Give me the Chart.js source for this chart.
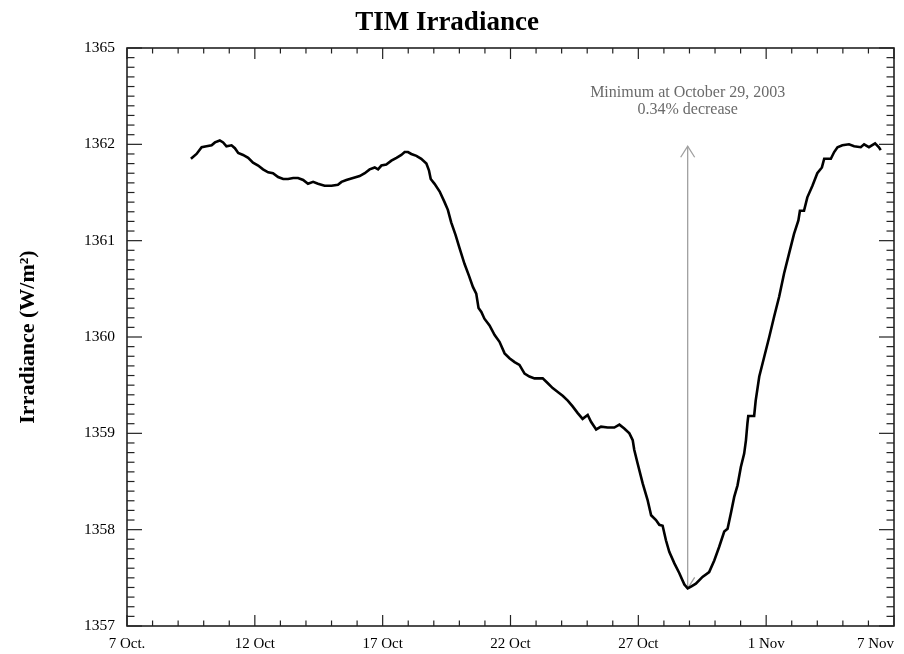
<!DOCTYPE html>
<html lang="en">
<head>
  <meta charset="utf-8" />
  <title>TIM Irradiance</title>
  <script src="https://cdn.jsdelivr.net/npm/chart.js@4.4.1/dist/chart.umd.min.js"></script>
  <style>
    body { margin: 0; background: #fff; }
    .wrap { width: 904px; height: 654px; position: relative; }
  </style>
</head>
<body>
  <div class="wrap"><canvas id="c"></canvas></div>
  <script>
    // days since 7 Oct 2003 (x), total solar irradiance in W/m^2 (y)
    const DAYS = [
      2.50, 2.72, 2.92, 3.11, 3.31, 3.44, 3.63, 3.76, 3.89, 4.09, 4.22, 4.35, 4.54, 4.74, 4.93,
      5.13, 5.32, 5.52, 5.71, 5.91, 6.11, 6.30, 6.50, 6.69, 6.89, 7.08, 7.28, 7.47, 7.73, 8.00,
      8.25, 8.39, 8.58, 8.84, 9.10, 9.30, 9.49, 9.69, 9.82, 9.95, 10.14, 10.34, 10.54, 10.73, 10.86,
      10.99, 11.12, 11.32, 11.51, 11.71, 11.81, 11.88, 12.03, 12.23, 12.42, 12.55, 12.68, 12.85, 13.01, 13.20,
      13.37, 13.53, 13.66, 13.75, 13.86, 13.98, 14.18, 14.38, 14.57, 14.77, 14.96, 15.16, 15.35, 15.55, 15.74,
      15.94, 16.26, 16.46, 16.65, 16.85, 17.04, 17.24, 17.43, 17.63, 17.82, 18.02, 18.15, 18.35, 18.54, 18.80,
      19.06, 19.26, 19.45, 19.65, 19.78, 19.84, 19.97, 20.17, 20.36, 20.50, 20.69, 20.82, 20.95, 21.08, 21.21,
      21.41, 21.60, 21.80, 21.93, 22.06, 22.25, 22.51, 22.77, 22.97, 23.16, 23.36, 23.49, 23.62, 23.75, 23.88,
      24.01, 24.14, 24.21, 24.27, 24.30, 24.53, 24.59, 24.73, 24.92, 25.12, 25.31, 25.51, 25.70, 25.90, 26.09,
      26.26, 26.32, 26.48, 26.61, 26.81, 27.00, 27.18, 27.27, 27.53, 27.66, 27.79, 27.98, 28.24, 28.44, 28.70,
      28.83, 29.02, 29.26, 29.41, 29.48
    ];
    const IRRADIANCE = [
      1361.85, 1361.90, 1361.97, 1361.98, 1361.99, 1362.02, 1362.04, 1362.02, 1361.98, 1361.99, 1361.96, 1361.91, 1361.89, 1361.86, 1361.81,
      1361.78, 1361.74, 1361.71, 1361.70, 1361.66, 1361.64, 1361.64, 1361.65, 1361.65, 1361.63, 1361.59, 1361.61, 1361.59, 1361.57, 1361.57,
      1361.58, 1361.61, 1361.63, 1361.65, 1361.67, 1361.70, 1361.74, 1361.76, 1361.74, 1361.78, 1361.79, 1361.83, 1361.86, 1361.89, 1361.92,
      1361.92, 1361.90, 1361.88, 1361.85, 1361.80, 1361.73, 1361.64, 1361.59, 1361.51, 1361.40, 1361.32, 1361.19, 1361.06, 1360.92, 1360.76,
      1360.64, 1360.52, 1360.45, 1360.30, 1360.26, 1360.19, 1360.12, 1360.02, 1359.95, 1359.83, 1359.78, 1359.74, 1359.71, 1359.62, 1359.59,
      1359.57, 1359.57, 1359.52, 1359.47, 1359.43, 1359.39, 1359.34, 1359.28, 1359.21, 1359.15, 1359.19, 1359.12, 1359.04, 1359.07, 1359.06,
      1359.06, 1359.09, 1359.05, 1359.00, 1358.93, 1358.83, 1358.69, 1358.48, 1358.31, 1358.15, 1358.10, 1358.05, 1358.04, 1357.89, 1357.77,
      1357.65, 1357.55, 1357.43, 1357.39, 1357.41, 1357.44, 1357.51, 1357.56, 1357.68, 1357.82, 1357.98, 1358.01, 1358.17, 1358.34, 1358.46,
      1358.65, 1358.79, 1358.93, 1359.11, 1359.18, 1359.18, 1359.34, 1359.59, 1359.79, 1360.00, 1360.21, 1360.42, 1360.66, 1360.87, 1361.07,
      1361.21, 1361.31, 1361.31, 1361.45, 1361.57, 1361.70, 1361.76, 1361.85, 1361.85, 1361.92, 1361.97, 1361.99, 1362.00, 1361.98, 1361.97,
      1362.00, 1361.97, 1362.01, 1361.97, 1361.94
    ];

    const X_TICK_DAYS = [0, 5, 10, 15, 20, 25, 30];
    const X_TICK_LABELS = ['7 Oct.', '12 Oct', '17 Oct', '22 Oct', '27 Oct', '1 Nov', '7 Nov'];
    const Y_TICK_VALUES = [1357, 1358, 1359, 1360, 1361, 1362, 1363];
    const Y_TICK_LABELS = ['1357', '1358', '1359', '1360', '1361', '1362', '1365'];

    // the minimum marker
    const MIN_DAY = 21.93;
    const MIN_VALUE = 1357.39;
    const ARROW_TOP = 1361.98;
    const NOTE_VALUE = 1362.54;
    const NOTE_LINES = ['Minimum at October 29, 2003', '0.34% decrease'];

    const SERIF = '"Liberation Serif", "Times New Roman", serif';
    const AXIS_COLOR = '#222';

    const points = DAYS.map((d, i) => ({ x: d, y: IRRADIANCE[i] }));

    function line(ctx, x1, y1, x2, y2) {
      ctx.beginPath();
      ctx.moveTo(x1, y1);
      ctx.lineTo(x2, y2);
      ctx.stroke();
    }

    function arrowHead(ctx, x, y, dir) {
      // dir = -1 points up, +1 points down
      ctx.beginPath();
      ctx.moveTo(x - 7, y - dir * 11);
      ctx.lineTo(x, y);
      ctx.lineTo(x + 7, y - dir * 11);
      ctx.stroke();
    }

    const minimumMarker = {
      id: 'minimumMarker',
      beforeDatasetsDraw(chart) {
        const { ctx, scales: { x, y } } = chart;
        const px = x.getPixelForValue(MIN_DAY);
        const yLow = y.getPixelForValue(MIN_VALUE);
        const yHigh = y.getPixelForValue(ARROW_TOP);
        ctx.save();
        ctx.strokeStyle = '#a0a0a0';
        ctx.lineWidth = 1.3;
        line(ctx, px, yLow, px, yHigh);
        arrowHead(ctx, px, yHigh, -1);
        arrowHead(ctx, px, yLow, 1);
        ctx.fillStyle = '#6a6a6a';
        ctx.font = '16px ' + SERIF;
        ctx.textAlign = 'center';
        ctx.textBaseline = 'middle';
        const ty = y.getPixelForValue(NOTE_VALUE);
        NOTE_LINES.forEach((t, i) => ctx.fillText(t, px, ty + i * 17));
        ctx.restore();
      },
    };

    // box frame with inward ticks on all four sides, plus x labels
    const frameTicks = {
      id: 'frameTicks',
      afterDatasetsDraw(chart) {
        const { ctx, chartArea: a, scales: { x, y } } = chart;
        ctx.save();
        ctx.strokeStyle = AXIS_COLOR;
        ctx.lineWidth = 1.2;
        for (let d = x.min; d <= x.max; d++) {
          const px = x.getPixelForValue(d);
          const len = d % 5 === 0 ? 11 : 5.5;
          line(ctx, px, a.bottom, px, a.bottom - len);
          line(ctx, px, a.top, px, a.top + len);
        }
        for (let i = 0; i <= (y.max - y.min) * 10; i++) {
          const py = y.getPixelForValue(y.min + i / 10);
          const len = i % 10 === 0 ? 15 : 7.5;
          line(ctx, a.left, py, a.left + len, py);
          line(ctx, a.right, py, a.right - len, py);
        }
        ctx.lineWidth = 1.6;
        ctx.strokeRect(a.left, a.top, a.right - a.left, a.bottom - a.top);

        ctx.fillStyle = '#000';
        ctx.font = '15px ' + SERIF;
        ctx.textBaseline = 'top';
        X_TICK_DAYS.forEach((d, i) => {
          const last = i === X_TICK_DAYS.length - 1;
          ctx.textAlign = last ? 'right' : 'center';
          ctx.fillText(X_TICK_LABELS[i], x.getPixelForValue(d), a.bottom + 11);
        });
        ctx.restore();
      },
    };

    new Chart(document.getElementById('c'), {
      type: 'line',
      data: {
        datasets: [{
          data: points,
          borderColor: '#000',
          borderWidth: 2.6,
          pointRadius: 0,
          tension: 0,
          fill: false,
        }],
      },
      options: {
        responsive: true,
        maintainAspectRatio: false,
        animation: false,
        layout: { padding: { left: 0, right: 10, top: 0, bottom: 0 } },
        plugins: {
          legend: { display: false },
          tooltip: { enabled: false },
          title: {
            display: true,
            text: 'TIM Irradiance',
            color: '#000',
            font: { family: SERIF, size: 27, weight: 'bold', lineHeight: 1.2 },
            padding: { top: 7, bottom: 8.6 },
          },
        },
        scales: {
          x: {
            type: 'linear',
            min: 0,
            max: 30,
            grid: { display: false },
            border: { display: false },
            ticks: { display: false },
            afterFit: (s) => { s.height = 28; },
          },
          y: {
            min: 1357,
            max: 1363,
            grid: { display: false, drawTicks: false },
            border: { display: false },
            afterBuildTicks: (s) => { s.ticks = Y_TICK_VALUES.map((v) => ({ value: v })); },
            ticks: {
              color: '#000',
              padding: 12,
              font: { family: SERIF, size: 15.5 },
              callback: (v) => Y_TICK_LABELS[Y_TICK_VALUES.indexOf(v)],
            },
            title: {
              display: true,
              text: 'Irradiance (W/m²)',
              color: '#000',
              font: { family: SERIF, size: 22, weight: 'bold' },
              padding: { top: 15, bottom: 0 },
            },
            afterFit: (s) => { s.width = 127; },
          },
        },
      },
      plugins: [minimumMarker, frameTicks],
    });
  </script>
</body>
</html>
